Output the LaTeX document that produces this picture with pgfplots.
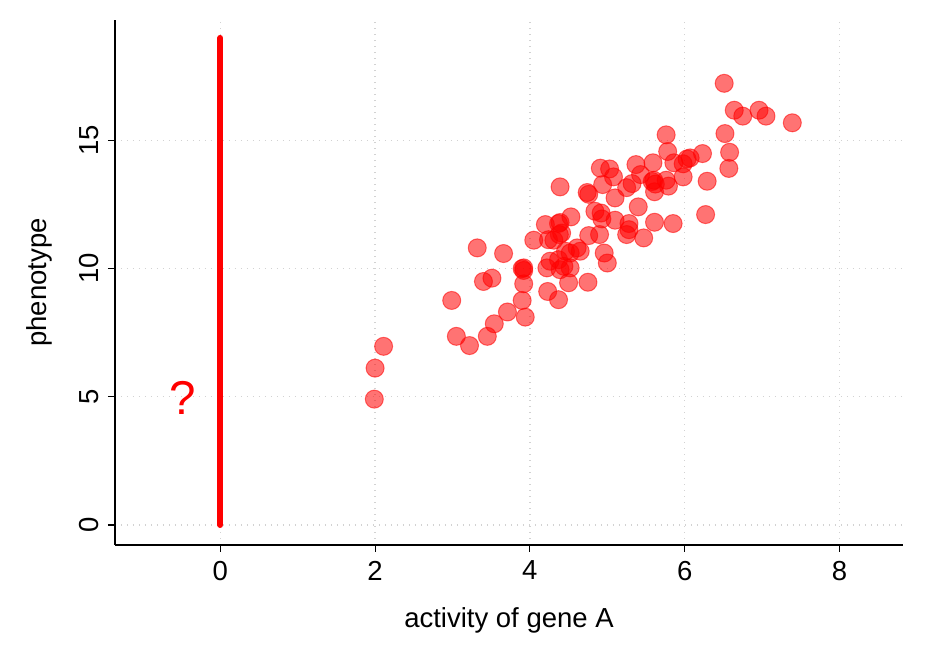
\documentclass[border=0pt]{standalone}
\usepackage{fontspec}
\setmainfont{Liberation Sans}
\usepackage{pgfplots}
\pgfplotsset{compat=1.18}
\begin{document}
\begin{tikzpicture}
\begin{axis}[
  scale only axis,
  width=315.2pt, height=210pt,
  xmin=-1.36, xmax=8.82, ymin=-0.78, ymax=19.7,
  axis x line*=bottom, axis y line*=left,
  axis line style={black, line width=0.45pt, -},
  xtick={0,2,4,6,8}, ytick={0,5,10,15},
  tick align=outside, major tick length=2.8pt,
  tick style={black, line width=0.45pt},
  grid=major,
  major grid style={gray!35, dotted, line width=0.5pt},
  /pgf/number format/assume math mode=true,
  tick label style={font=\fontsize{11}{13}\selectfont},
  label style={font=\fontsize{11}{13}\selectfont},
  yticklabel style={rotate=90, anchor=south},
  xlabel={activity of gene A},
  ylabel={phenotype},
  xlabel style={yshift=-4pt},
  ylabel style={yshift=4pt},
  clip=false,
]
\addplot[red, line width=2.4pt, line cap=round] coordinates {(0,0) (0,19)};
\addplot[only marks, mark=*, mark size=3.6pt,
  mark options={draw=red, fill=red, opacity=0.55}] table {
x y
1.99 4.91
2.00 6.12
2.11 6.97
2.99 8.76
3.05 7.36
3.22 7.00
3.45 7.36
3.54 7.85
3.71 8.31
3.94 8.11
3.90 8.76
3.92 9.41
3.40 9.50
3.51 9.63
3.32 10.81
3.66 10.59
3.92 10.03
3.92 9.93
3.90 10.00
4.05 11.11
4.20 11.72
4.24 11.13
4.31 11.11
4.38 11.33
4.41 11.39
4.22 10.03
4.26 10.29
4.37 10.35
4.39 9.96
4.44 10.09
4.52 10.61
4.23 9.11
4.37 8.79
4.50 9.45
4.75 9.47
4.52 10.03
4.46 10.68
4.61 10.81
4.65 10.68
4.96 10.61
5.00 10.22
4.39 11.80
4.37 11.76
4.53 12.02
4.39 13.19
4.74 12.97
4.76 12.90
4.84 12.24
4.92 12.17
4.93 11.94
5.10 11.89
5.28 11.76
5.28 11.52
5.25 11.33
5.47 11.20
4.76 11.29
4.90 11.33
5.10 12.76
5.40 12.41
4.91 13.92
5.03 13.89
5.08 13.58
4.94 13.28
5.25 13.16
5.32 13.32
5.43 13.67
5.37 14.06
5.59 14.13
5.60 13.45
5.58 13.40
5.62 13.30
5.61 13.00
5.76 13.45
5.79 13.22
5.86 14.13
5.98 14.09
5.98 13.58
6.03 14.28
6.07 14.32
6.23 14.49
6.29 13.41
6.27 12.11
5.85 11.76
5.61 11.81
5.76 15.22
5.78 14.57
6.51 17.23
6.64 16.18
6.75 15.95
6.96 16.18
7.05 15.95
7.39 15.69
6.52 15.27
6.58 14.54
6.57 13.91
};
\node[red, font=\fontsize{19}{22}\selectfont] at (axis cs:-0.48,4.96) {?};
\coordinate (ll) at (rel axis cs:0,0);
\coordinate (ur) at (rel axis cs:1,1);
\end{axis}
\pgfresetboundingbox
\useasboundingbox ([shift={(-46pt,-42.4pt)}]ll) rectangle ([shift={(18.4pt,8pt)}]ur);
\end{tikzpicture}
\end{document}
